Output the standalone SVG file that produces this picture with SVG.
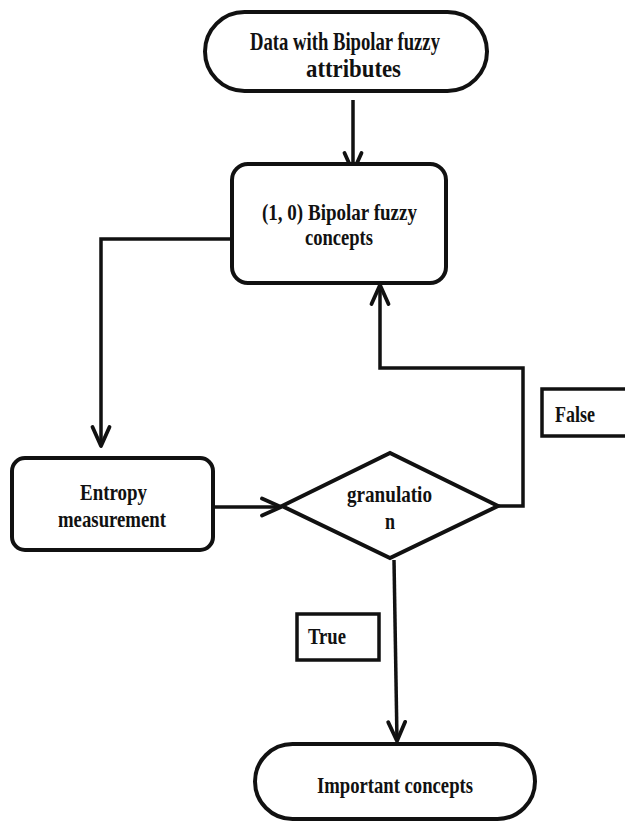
<svg xmlns="http://www.w3.org/2000/svg" width="625" height="822" viewBox="0 0 625 822">
<style>
.node{fill:#fff;stroke:#111;stroke-width:4}
.lbl{fill:#fff;stroke:#111;stroke-width:3.5}
.conn{fill:none;stroke:#111;stroke-width:3.5;stroke-linejoin:miter}
text{font-family:"Liberation Serif","Times New Roman",serif;font-weight:bold;fill:#111}
.t{font-size:24px}
.tb{font-size:25px}
</style>
<defs>
<marker id="arr" markerUnits="userSpaceOnUse" viewBox="-24 -12 28 24" markerWidth="28" markerHeight="24" refX="0" refY="0" orient="auto">
<path d="M-19,-8.5 L0,0 L-19,8.5" fill="none" stroke="#111" stroke-width="3.8" stroke-linejoin="round" stroke-linecap="round"/>
</marker>
</defs>
<rect width="625" height="822" fill="#fff"/>
<g id="connectors">
<path class="conn" d="M353,100 L353,172" marker-end="url(#arr)"/>
<path class="conn" d="M232,239 L101,239 L101,446" marker-end="url(#arr)"/>
<path class="conn" d="M213,507 L281,507" marker-end="url(#arr)"/>
<path class="conn" d="M498,506 L523,506 L523,368 L380,368 L380,285" marker-end="url(#arr)"/>
<path class="conn" d="M394,560 L397,741" marker-end="url(#arr)"/>
</g>
<g id="start">
<rect class="node" x="205" y="12" width="282" height="79" rx="39.5"/>
<text class="tb" x="250" y="50" textLength="190" lengthAdjust="spacingAndGlyphs">Data with Bipolar fuzzy</text>
<text class="tb" x="306" y="77" textLength="95" lengthAdjust="spacingAndGlyphs">attributes</text>
</g>
<g id="concepts">
<rect class="node" x="232" y="164" width="214" height="119" rx="16"/>
<text class="t" x="262" y="220" textLength="155" lengthAdjust="spacingAndGlyphs">(1, 0) Bipolar fuzzy</text>
<text class="t" x="305" y="245" textLength="68" lengthAdjust="spacingAndGlyphs">concepts</text>
</g>
<g id="entropy">
<rect class="node" x="12" y="458" width="201" height="92" rx="13"/>
<text class="t" x="80" y="500" textLength="67" lengthAdjust="spacingAndGlyphs">Entropy</text>
<text class="t" x="58" y="527" textLength="108" lengthAdjust="spacingAndGlyphs">measurement</text>
</g>
<g id="granulation">
<polygon class="node" points="282,506 390,453 498,506 390,558"/>
<text class="t" x="347" y="502" textLength="85" lengthAdjust="spacingAndGlyphs">granulatio</text>
<text class="t" x="385" y="529" textLength="10" lengthAdjust="spacingAndGlyphs">n</text>
</g>
<g id="false-label">
<rect class="lbl" x="542" y="389" width="100" height="47"/>
<text class="t" x="555" y="422" textLength="40" lengthAdjust="spacingAndGlyphs">False</text>
</g>
<g id="true-label">
<rect class="lbl" x="297" y="614" width="82" height="46"/>
<text class="t" x="308" y="644" textLength="38" lengthAdjust="spacingAndGlyphs">True</text>
</g>
<g id="important">
<rect class="node" x="255" y="744" width="280" height="75" rx="37.5"/>
<text class="t" x="317" y="793" textLength="156" lengthAdjust="spacingAndGlyphs">Important concepts</text>
</g>
</svg>
